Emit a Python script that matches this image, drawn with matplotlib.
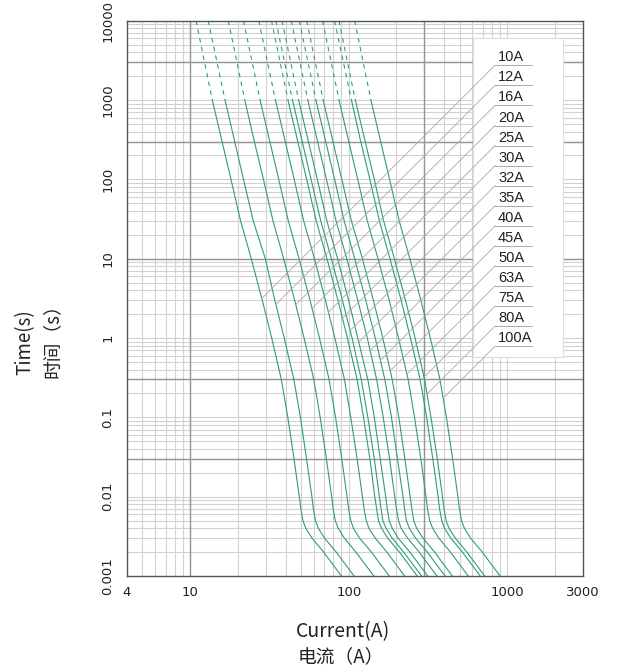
import numpy as np
import matplotlib.pyplot as plt
from matplotlib.patches import Rectangle

# 熔断时间 (s)，每条曲线在这些时间点上的电流 (A)
t_levels = [10000, 1000, 300, 100, 30, 10, 3, 1, 0.3, 0.1, 0.03, 0.01,
            0.007, 0.005, 0.004, 0.003, 0.002, 0.001]

ratings = ['10A', '12A', '16A', '20A', '25A', '30A', '32A', '35A',
           '40A', '45A', '50A', '63A', '75A', '80A', '100A']

i10 = [10.9, 13.8, 15.9, 18.1, 20.8, 24.3, 28.5, 32.7, 37.6, 41.3, 45.2, 48.8, 49.9, 51.4, 53.6, 58.7, 69.5, 90.0]
i12 = [13.0, 16.6, 19.1, 21.7, 25.0, 29.8, 34.2, 39.2, 45.1, 49.6, 54.2, 58.6, 59.9, 61.7, 64.3, 70.4, 83.4, 108]
i16 = [17.4, 22.1, 25.4, 29.0, 33.3, 38.9, 45.6, 52.3, 60.2, 66.1, 72.3, 78.1, 79.8, 82.2, 85.8, 93.9, 111, 144]
i20 = [21.7, 27.6, 31.8, 36.2, 41.6, 48.6, 57.0, 65.4, 75.2, 82.6, 90.4, 97.6, 99.8, 103, 107, 117, 139, 180]
i25 = [27.1, 34.5, 39.8, 45.3, 52.0, 60.8, 71.3, 81.8, 94.0, 103, 113, 122, 125, 129, 134, 147, 174, 225]
i30 = [32.6, 41.4, 47.7, 54.3, 62.4, 72.9, 85.5, 98.1, 113, 124, 136, 146, 150, 154, 161, 176, 209, 270]
i32 = [34.7, 44.2, 50.9, 57.9, 66.6, 77.8, 91.2, 105, 120, 132, 145, 156, 160, 164, 172, 188, 222, 288]
i35 = [38.0, 48.3, 55.7, 63.4, 72.8, 85.1, 99.8, 114, 132, 145, 158, 171, 175, 180, 188, 205, 243, 315]
i40 = [43.4, 55.2, 63.6, 72.4, 83.2, 97.2, 114, 131, 150, 165, 181, 195, 200, 206, 214, 235, 278, 360]
i45 = [48.8, 62.1, 71.6, 81.5, 93.6, 109, 128, 147, 169, 186, 203, 220, 225, 231, 241, 264, 313, 405]
i50 = [54.3, 69.0, 79.5, 90.5, 104, 122, 143, 164, 188, 207, 226, 244, 250, 257, 268, 294, 348, 450]
i63 = [68.4, 86.9, 100, 114, 131, 153, 180, 206, 237, 260, 285, 307, 314, 324, 338, 370, 438, 567]
i75 = [81.4, 104, 119, 136, 156, 182, 214, 245, 282, 310, 339, 366, 374, 386, 402, 440, 521, 675]
i80 = [86.8, 110, 127, 145, 166, 194, 228, 262, 301, 330, 362, 390, 399, 411, 429, 470, 556, 720]
i100 = [109, 138, 159, 181, 208, 243, 285, 327, 376, 413, 452, 488, 499, 514, 536, 587, 695, 900]

curves = [i10, i12, i16, i20, i25, i30, i32, i35, i40, i45, i50, i63, i75, i80, i100]

x_ticks = [4, 10, 100, 1000, 3000]
x_ticklabels = ['4', '10', '100', '1000', '3000']
y_ticks = [0.001, 0.01, 0.1, 1, 10, 100, 1000, 10000]
y_ticklabels = ['0.001', '0.01', '0.1', '1', '10', '100', '1000', '10000']

# 坐标纸上颜色较深的格线
x_dark = [10, 300]
y_dark = [3000, 300, 10, 0.3, 0.03]

curve_color = '#2f9c7c'
W, H = 617, 672

fig = plt.figure(figsize=(W / 100, H / 100), dpi=100)
ax = fig.add_axes([127 / W, 1 - 576 / H, 456 / W, 555.3 / H])
ax.set_xscale('log')
ax.set_yscale('log')
ax.set_xlim(4, 3000)
ax.set_ylim(0.001, 10000)

# 网格
for dec in [1, 10, 100, 1000]:
    for m in range(1, 10):
        v = m * dec
        if 4 < v < 3000:
            ax.axvline(v, color='#d2d2d2', lw=0.8, zorder=0)
for dec in [0.001, 0.01, 0.1, 1, 10, 100, 1000]:
    for m in range(1, 10):
        v = m * dec
        if 0.001 < v < 10000:
            ax.axhline(v, color='#d2d2d2', lw=0.8, zorder=0)
for v in x_dark:
    ax.axvline(v, color='#959595', lw=1.0, zorder=0.5)
for v in y_dark:
    ax.axhline(v, color='#959595', lw=1.0, zorder=0.5)

# 曲线：1000 s 以上为虚线
for cur in curves:
    ax.plot(cur[:2], t_levels[:2], color=curve_color, lw=0.8, ls=(0, (4, 4)), zorder=2)
    ax.plot(cur[1:], t_levels[1:], color=curve_color, lw=0.8, zorder=2)

ax.set_xticks(x_ticks)
ax.set_xticklabels(x_ticklabels)
ax.set_yticks(y_ticks)
ax.set_yticklabels(y_ticklabels, rotation=90, va='center')
ax.minorticks_off()
ax.tick_params(axis='both', length=0, labelsize=9.5, labelcolor='#222222')
ax.tick_params(axis='x', pad=7)
ax.tick_params(axis='y', pad=9)
for sp in ax.spines.values():
    sp.set_color('#555555')
    sp.set_linewidth(1.0)

# 图例框
def px2ax(px, py):
    return (px - 127) / 456, (576 - py) / 555.3

bx0, by1 = px2ax(473, 38)
bx1, by0 = px2ax(563, 357)
ax.add_patch(Rectangle((bx0, by0), bx1 - bx0, by1 - by0, transform=ax.transAxes,
                       facecolor='white', edgecolor='#dddddd', lw=0.8, zorder=3))

fig.canvas.draw()
inv = ax.transData.inverted()
for k, (lab, cur) in enumerate(zip(ratings, curves)):
    cy = 57.3 + 20.07 * k
    tx, ty = px2ax(498, cy)
    ax.text(tx, ty, lab, transform=ax.transAxes, ha='left', va='center',
            fontsize=10.5, family=['Liberation Sans', 'DejaVu Sans'],
            color='#222222', zorder=5)
    ux0, uy = px2ax(495, cy + 8)
    ux1, _ = px2ax(532, cy + 8)
    ax.plot([ux0, ux1], [uy, uy], transform=ax.transAxes, color='#9a9a9a', lw=0.6, zorder=4)
    # 引线：从下划线左端向左下 45° 延伸至对应曲线
    sx, sy = ax.transAxes.transform((ux0, uy))
    pts = ax.transData.transform(np.column_stack([cur[1:], t_levels[1:]]))
    g = (pts[:, 0] - sx) - (pts[:, 1] - sy)
    j = np.where((g[:-1] < 0) & (g[1:] >= 0))[0][0]
    f = -g[j] / (g[j + 1] - g[j])
    ex, ey = pts[j] + f * (pts[j + 1] - pts[j])
    p0 = inv.transform((sx, sy))
    p1 = inv.transform((ex, ey))
    ax.plot([p0[0], p1[0]], [p0[1], p1[1]], color='#a8a8a8', lw=0.6, zorder=4)

lab_font = ['Noto Sans CJK SC', 'DejaVu Sans']
fig.text(25 / W, 1 - 342 / H, 'Time(s)', rotation=90, ha='center', va='center',
         fontsize=13.5, family=lab_font, color='#222222')
fig.text(52 / W, 1 - 336 / H, '时间（s）', rotation=90, ha='center', va='center',
         fontsize=13.5, family=lab_font, color='#222222')
fig.text(343 / W, 1 - 632 / H, 'Current(A)', ha='center', va='center',
         fontsize=14, family=lab_font, color='#222222')
fig.text(341 / W, 1 - 657 / H, '电流（A）', ha='center', va='center',
         fontsize=13.5, family=lab_font, color='#222222')

fig.savefig('out.png', dpi=100)
